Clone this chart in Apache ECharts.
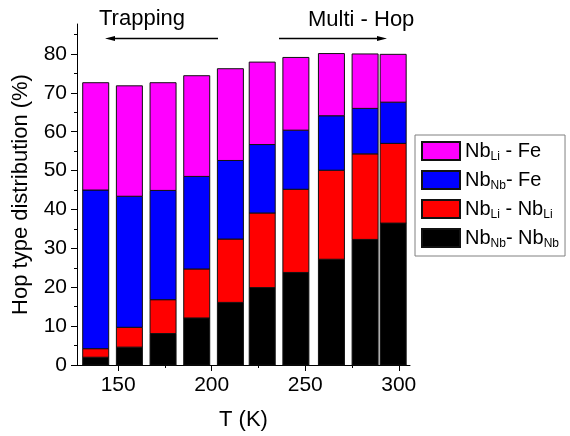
<!DOCTYPE html>
<html>
<head>
<meta charset="utf-8">
<script src="https://cdn.jsdelivr.net/npm/echarts@6/dist/echarts.min.js"></script>
<style>
  html, body { margin: 0; padding: 0; background: #fff; }
  #chart { width: 570px; height: 436px; }
</style>
</head>
<body>
<div id="chart"></div>
<script>
// Temperatures of the measured runs (K)
const temps = [138, 156, 174, 192, 210, 227, 245, 264, 282, 297];

// Share of each hop type (%), stacked from the bottom up
const nbNbNbNb = [2.0, 4.6, 8.1, 12.1, 16.1, 19.9, 23.8, 27.2, 32.3, 36.5];
const nbLiNbLi = [2.2, 5.1, 8.7, 12.6, 16.3, 19.2, 21.4, 22.9, 22.0, 20.5];
const nbNbFe   = [40.8, 33.7, 28.1, 23.8, 20.2, 17.6, 15.2, 14.0, 11.7, 10.6];
const nbLiFe   = [27.6, 28.4, 27.7, 25.9, 23.6, 21.2, 18.7, 16.0, 14.0, 12.3];

// Axis ticks
const xTicks = [150, 200, 250, 300];
const xMinorTicks = [175, 225, 275];
const yTicks = [0, 10, 20, 30, 40, 50, 60, 70, 80];
const yMinorTicks = [5, 15, 25, 35, 45, 55, 65, 75, 85];

const FONT = '"Liberation Sans", Arial, sans-serif';
const BAR_PX = 26;

const legendLabels = {
  'NbLi-Fe':   '{m|Nb}{s|Li}{m| - Fe}',
  'NbNb-Fe':   '{m|Nb}{s|Nb}{m|- Fe}',
  'NbLi-NbLi': '{m|Nb}{s|Li}{m| - Nb}{s|Li}',
  'NbNb-NbNb': '{m|Nb}{s|Nb}{m|- Nb}{s|Nb}'
};

// Bottom-to-top stacking order
const layers = [
  { name: 'NbNb-NbNb', values: nbNbNbNb, color: '#000000' },
  { name: 'NbLi-NbLi', values: nbLiNbLi, color: '#ff0000' },
  { name: 'NbNb-Fe',   values: nbNbFe,   color: '#0000ff' },
  { name: 'NbLi-Fe',   values: nbLiFe,   color: '#ff00ff' }
];

// Each segment is [T, lower edge, upper edge]
const running = temps.map(() => 0);
const stackedSeries = layers.map(layer => {
  const data = layer.values.map((v, i) => {
    const lo = running[i];
    running[i] = lo + v;
    return [temps[i], lo, lo + v];
  });
  return {
    name: layer.name,
    type: 'custom',
    xAxisIndex: 0,
    yAxisIndex: 0,
    encode: { x: 0, y: [1, 2] },
    itemStyle: { color: layer.color, borderColor: '#111', borderWidth: 1 },
    data: data,
    renderItem: function (params, api) {
      const lower = api.coord([api.value(0), api.value(1)]);
      const upper = api.coord([api.value(0), api.value(2)]);
      return {
        type: 'rect',
        shape: { x: lower[0] - BAR_PX / 2, y: upper[1], width: BAR_PX, height: lower[1] - upper[1] },
        style: api.style()
      };
    }
  };
});

const chart = echarts.init(document.getElementById('chart'), null, { renderer: 'canvas' });

const axisLine = { show: true, lineStyle: { color: '#000', width: 1 } };

const option = {
  animation: false,
  backgroundColor: '#fff',
  grid: { left: 77, top: 24, width: 333, height: 342, containLabel: false },
  xAxis: [
    {
      type: 'value', min: 128, max: 306,
      name: 'T (K)', nameLocation: 'middle', nameGap: 44,
      nameTextStyle: { fontFamily: FONT, fontSize: 22, color: '#000' },
      axisLine: axisLine,
      axisTick: { show: true, inside: false, length: 6, customValues: xTicks, lineStyle: { color: '#000' } },
      axisLabel: { customValues: xTicks, margin: 10, fontFamily: FONT, fontSize: 21, color: '#000' },
      splitLine: { show: false }
    },
    {
      type: 'value', min: 128, max: 306, position: 'bottom',
      axisLine: { show: false },
      axisTick: { show: true, length: 3, customValues: xMinorTicks, lineStyle: { color: '#000' } },
      axisLabel: { show: false },
      splitLine: { show: false }
    }
  ],
  yAxis: [
    {
      type: 'value', min: 0, max: 87.7,
      name: 'Hop type distribution (%)', nameLocation: 'middle', nameGap: 45, nameRotate: 90,
      nameTextStyle: { fontFamily: FONT, fontSize: 22, color: '#000' },
      axisLine: axisLine,
      axisTick: { show: true, inside: false, length: 6, customValues: yTicks, lineStyle: { color: '#000' } },
      axisLabel: { customValues: yTicks, margin: 10, fontFamily: FONT, fontSize: 21, color: '#000' },
      splitLine: { show: false }
    },
    {
      type: 'value', min: 0, max: 87.7, position: 'left',
      axisLine: { show: false },
      axisTick: { show: true, length: 3, customValues: yMinorTicks, lineStyle: { color: '#000' } },
      axisLabel: { show: false },
      splitLine: { show: false }
    }
  ],
  legend: {
    orient: 'vertical',
    left: 415, top: 135,
    padding: 6,
    itemGap: 7,
    itemWidth: 38, itemHeight: 18,
    icon: 'rect',
    selectedMode: false,
    borderColor: '#808080', borderWidth: 1,
    data: ['NbLi-Fe', 'NbNb-Fe', 'NbLi-NbLi', 'NbNb-NbNb'],
    formatter: name => legendLabels[name],
    textStyle: {
      color: '#000',
      rich: {
        m: { fontFamily: FONT, fontSize: 20, lineHeight: 24, color: '#000' },
        s: { fontFamily: FONT, fontSize: 12, lineHeight: 6, verticalAlign: 'bottom', color: '#000' }
      }
    }
  },
  series: stackedSeries
};

chart.setOption(option);

// Regime annotations above the bars: label text with a direction arrow
function arrow(x1, x2, y) {
  const dir = x2 > x1 ? 1 : -1;
  return [
    { type: 'line', shape: { x1: x1, y1: y, x2: x2 - dir * 8, y2: y },
      style: { stroke: '#000', lineWidth: 1.3 } },
    { type: 'polygon', shape: { points: [[x2, y], [x2 - dir * 10, y - 2.6], [x2 - dir * 10, y + 2.6]] },
      style: { fill: '#000' } }
  ];
}

chart.setOption({
  graphic: [
    { type: 'text', left: 99, top: 8,
      style: { text: 'Trapping', font: '22px ' + FONT, fill: '#000' } },
    { type: 'text', left: 308, top: 9,
      style: { text: 'Multi - Hop', font: '22px ' + FONT, fill: '#000' } }
  ].concat(arrow(218, 105, 38.5), arrow(279, 387, 38.5))
});
</script>
</body>
</html>
